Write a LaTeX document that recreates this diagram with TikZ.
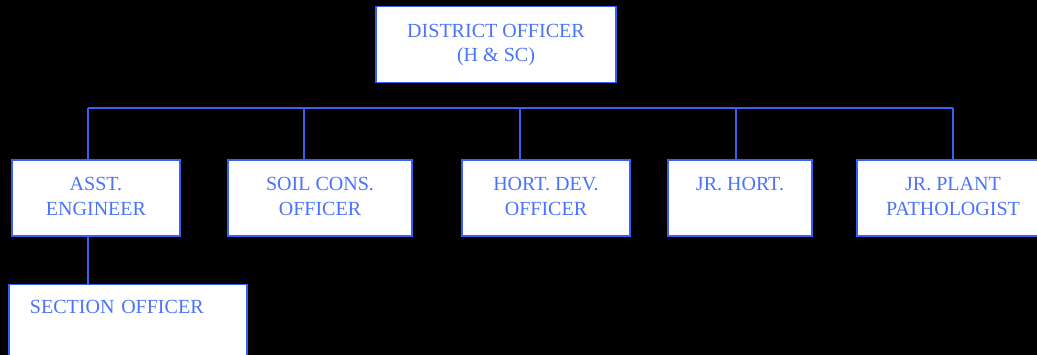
\documentclass[tikz,border=0pt]{standalone}
\usepackage{fontspec}
\setmainfont{Liberation Serif}
\usetikzlibrary{positioning}
\definecolor{orgline}{RGB}{58,95,245}
\definecolor{orgtext}{RGB}{75,115,250}

\begin{document}
\begin{tikzpicture}[
  box/.style={draw=orgline, fill=white, line width=1.1pt, inner sep=0pt,
    text height=0.61cm, text depth=0.91cm, align=center, text=orgtext,
    font=\fontsize{11.4pt}{14.2pt}\selectfont},
  twoline/.style={text height=1.11cm, text depth=0.41cm},
  link/.style={draw=orgline, line width=1.1pt}]

\useasboundingbox (0,0) rectangle (20.74,7.1);
\fill[black] (0,0) rectangle (20.74,7.1);
\clip (0,0) rectangle (20.74,7.1);

\node[box, twoline, minimum width=4.8cm] (dist) at (9.92,6.21) {DISTRICT OFFICER\\(H \& SC)};

\node[box, twoline, minimum width=3.36cm] (asst) at (1.92,3.14)  {ASST.\\ENGINEER};
\node[box, twoline, minimum width=3.68cm] (soil) at (6.4,3.14)   {SOIL CONS.\\OFFICER};
\node[box, twoline, minimum width=3.36cm] (hort) at (10.92,3.14) {HORT. DEV.\\OFFICER};
\node[box, minimum width=2.88cm]          (jrh)  at (14.8,3.14)  {JR. HORT.};
\node[box, twoline, minimum width=3.84cm] (jrp)  at (19.06,3.14) {JR. PLANT\\PATHOLOGIST};

\node[box, minimum width=4.76cm, text height=0.59cm, inner xsep=0.42cm,
  text width=3.92cm, align=left] (sec) at (2.56,0.66) {SECTION OFFICER};

% bus line
\coordinate (b1) at (1.76,4.94);
\coordinate (b2) at (6.08,4.94);
\coordinate (b3) at (10.4,4.94);
\coordinate (b4) at (14.72,4.94);
\coordinate (b5) at (19.06,4.94);
\draw[link] (b1) -- (b5);

% drops to the boxes
\draw[link] (b1) -- (b1 |- asst.north);
\draw[link] (b2) -- (b2 |- soil.north);
\draw[link] (b3) -- (b3 |- hort.north);
\draw[link] (b4) -- (b4 |- jrh.north);
\draw[link] (b5) -- (jrp.north);

% engineer -> section officer
\draw[link] (b1 |- asst.south) -- (b1 |- sec.north);

\end{tikzpicture}
\end{document}
